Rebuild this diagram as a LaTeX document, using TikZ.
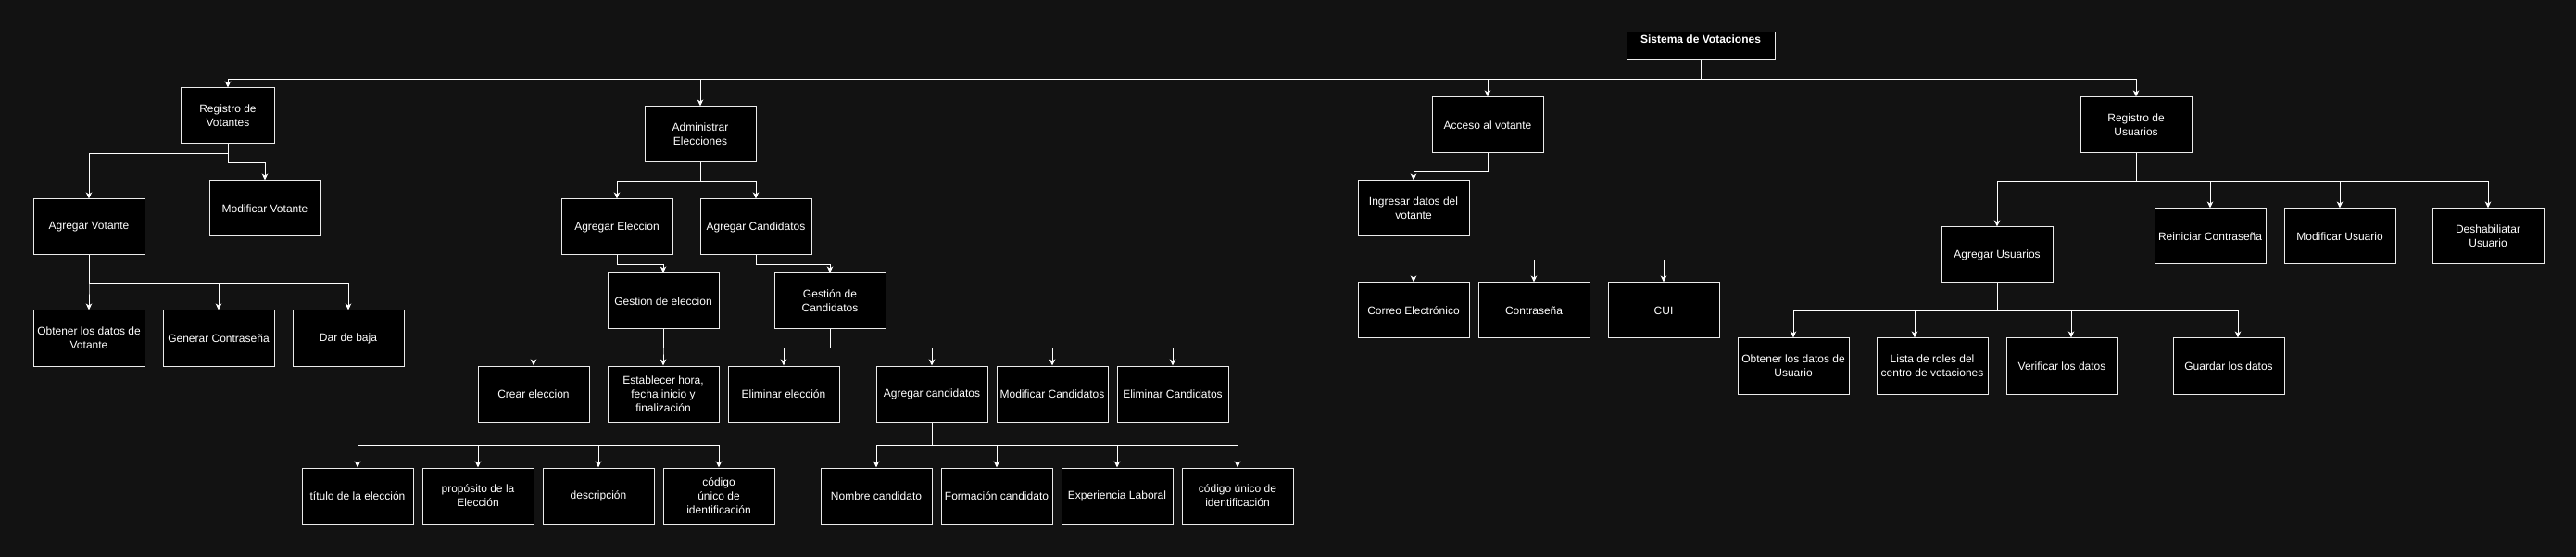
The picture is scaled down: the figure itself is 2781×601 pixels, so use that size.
\documentclass[tikz,border=0pt]{standalone}
\usepackage{fontspec}
\setmainfont{Liberation Sans}
\usetikzlibrary{arrows.meta}
\definecolor{bgc}{RGB}{18,18,18}
\definecolor{edgec}{RGB}{235,235,235}
\tikzset{
  box/.style={draw=edgec, line width=1pt, fill=black, text=white, align=center,
    minimum width=120pt, minimum height=60pt, inner sep=1pt,
    font=\fontsize{12}{15}\selectfont},
  conn/.style={draw=white, line width=1pt, -{Stealth[length=7pt,width=6.5pt,inset=2pt]}},
  plain/.style={draw=white, line width=1pt}
}
\begin{document}
\begin{tikzpicture}[x=1pt,y=-1pt]
\useasboundingbox (0,0) rectangle (2781,601);
\fill[bgc] (0,0) rectangle (2781,601);

% root
\node[box, minimum width=160pt, minimum height=30pt,
  label={[font=\fontsize{12}{15}\selectfont\bfseries, text=white, anchor=center, yshift=-8pt, inner sep=0pt]north:Sistema de Votaciones}] (root) at (1836,50) {};

% level 1
\node[box, minimum width=101pt] (rv) at (246,125) {Registro de\\Votantes};
\node[box] (ae) at (756,145) {Administrar\\Elecciones};
\node[box] (acc) at (1606,135) {Acceso al votante};
\node[box] (ru) at (2306,135) {Registro de\\Usuarios};

% Registro de Votantes branch
\node[box] (av) at (96,245) {Agregar Votante};
\node[box] (mv) at (286,225) {Modificar Votante};
\node[box] (odv) at (96,365) {Obtener los datos de\\Votante};
\node[box] (gcon) at (236,365) {Generar Contraseña};
\node[box] (db) at (376,365) {Dar de baja};

% Administrar Elecciones branch
\node[box] (age) at (666,245) {Agregar Eleccion};
\node[box] (agc) at (816,245) {Agregar Candidatos};
\node[box] (ge) at (716,325) {Gestion de eleccion};
\node[box] (gc) at (896,325) {Gestión de\\Candidatos};
\node[box] (ce) at (576,425) {Crear eleccion};
\node[box] (eh) at (716,425) {Establecer hora,\\fecha inicio y\\finalización};
\node[box] (ee) at (846,425) {Eliminar elección};
\node[box] (acan) at (1006,425) {Agregar candidatos};
\node[box] (mcan) at (1136,425) {Modificar Candidatos};
\node[box] (ecan) at (1266,425) {Eliminar Candidatos};
\node[box] (tit) at (386,535) {título de la elección};
\node[box] (pro) at (516,535) {propósito de la\\Elección};
\node[box] (des) at (646,535) {descripción};
\node[box] (cod1) at (776,535) {código\\único de\\identificación};
\node[box] (nom) at (946,535) {Nombre candidato};
\node[box] (for) at (1076,535) {Formación candidato};
\node[box] (exp) at (1206,535) {Experiencia Laboral};
\node[box] (cod2) at (1336,535) {código único de\\identificación};

% Acceso branch
\node[box] (ing) at (1526,225) {Ingresar datos del\\votante};
\node[box] (cor) at (1526,335) {Correo Electrónico};
\node[box] (con) at (1656,335) {Contraseña};
\node[box] (cui) at (1796,335) {CUI};

% Registro de Usuarios branch
\node[box] (au) at (2156,275) {Agregar Usuarios};
\node[box] (rc) at (2386,255) {Reiniciar Contraseña};
\node[box] (mu) at (2526,255) {Modificar Usuario};
\node[box] (du) at (2686,255) {Deshabiliatar\\Usuario};
\node[box] (odu) at (1936,395) {Obtener los datos de\\Usuario};
\node[box] (lr) at (2086,395) {Lista de roles del\\centro de votaciones};
\node[box] (vd) at (2226,395) {Verificar los datos};
\node[box] (gd) at (2406,395) {Guardar los datos};

% connectors: root
\foreach \t in {rv,ae,acc,ru}{
  \draw[conn] (root.south) -- ++(0,20) -| (\t.north);
}
% Registro de Votantes
\draw[conn] (rv.south) -- ++(0,10) -| (av.north);
\draw[conn] (rv.south) -- ++(0,20) -| (mv.north);
\foreach \t in {odv,gcon,db}{
  \draw[conn] (av.south) -- ++(0,30) -| (\t.north);
}
% Administrar Elecciones
\draw[conn] (ae.south) -- ++(0,20) -| (age.north);
\draw[conn] (ae.south) -- ++(0,20) -| (agc.north);
\draw[conn] (age.south) -- ++(0,10) -| (ge.north);
\draw[conn] (agc.south) -- ++(0,10) -| (gc.north);
\foreach \t in {ce,eh,ee}{
  \draw[conn] (ge.south) -- ++(0,20) -| (\t.north);
}
\foreach \t in {acan,mcan,ecan}{
  \draw[conn] (gc.south) -- ++(0,20) -| (\t.north);
}
\foreach \t in {tit,pro,des,cod1}{
  \draw[conn] (ce.south) -- ++(0,25) -| (\t.north);
}
\foreach \t in {nom,for,exp,cod2}{
  \draw[conn] (acan.south) -- ++(0,25) -| (\t.north);
}
% Acceso
\draw[conn] (acc.south) -- ++(0,20) -| (ing.north);
\foreach \t in {cor,con,cui}{
  \draw[conn] (ing.south) -- ++(0,25) -| (\t.north);
}
% Registro de Usuarios
\foreach \t in {au,rc,mu,du}{
  \draw[conn] (ru.south) -- ++(0,30) -| (\t.north);
}
\draw[conn] (au.south) -- ++(0,30) -| (odu.north);
\draw[conn] (au.south) -- ++(0,30) -| ([xshift=-19pt]lr.north);
\draw[conn] (au.south) -- ++(0,30) -| ([xshift=10pt]vd.north);
\draw[conn] (au.south) -- ++(0,30) -| ([xshift=10pt]gd.north);
\end{tikzpicture}
\end{document}
